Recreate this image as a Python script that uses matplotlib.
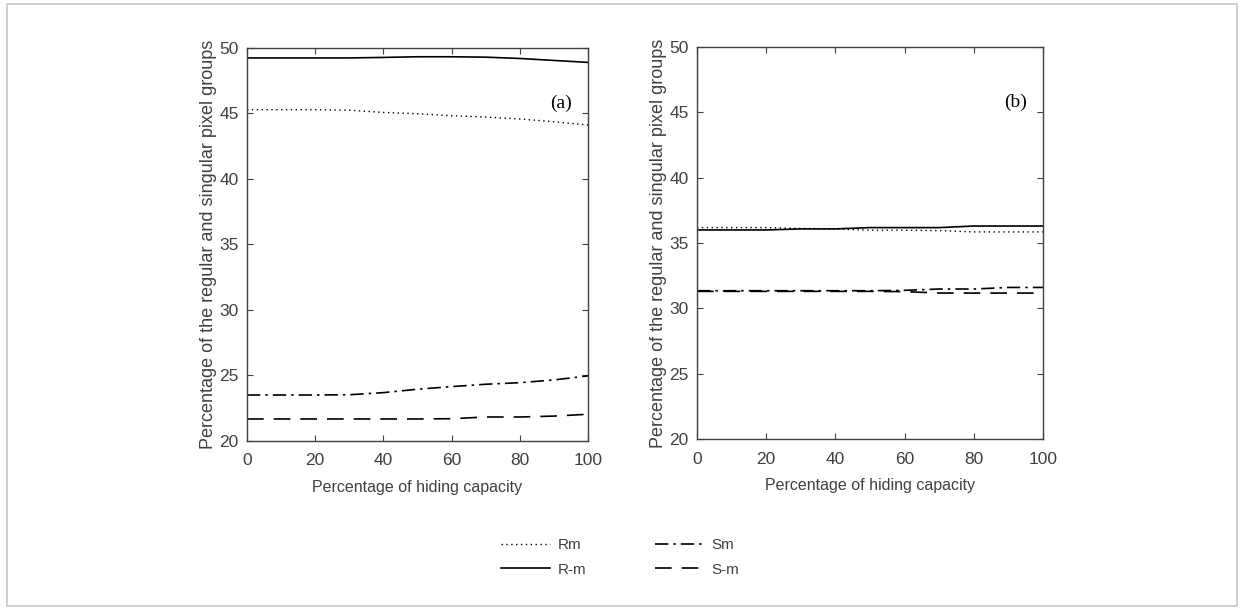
import matplotlib.pyplot as plt
from matplotlib.patches import Rectangle

# hiding capacity (%)
capacity = [0, 10, 20, 30, 40, 50, 60, 70, 80, 90, 100]

# panel (a)
a_rm = [45.29, 45.29, 45.29, 45.25, 45.08, 44.98, 44.83, 44.73, 44.58, 44.37, 44.12]
a_r_m = [49.24, 49.24, 49.24, 49.24, 49.28, 49.33, 49.33, 49.30, 49.20, 49.05, 48.90]
a_sm = [23.51, 23.51, 23.51, 23.53, 23.69, 23.95, 24.15, 24.33, 24.45, 24.66, 24.97]
a_s_m = [21.68, 21.68, 21.68, 21.68, 21.68, 21.68, 21.70, 21.83, 21.83, 21.90, 22.04]

# panel (b)
b_rm = [36.18, 36.18, 36.18, 36.12, 36.08, 35.98, 35.98, 35.95, 35.85, 35.85, 35.85]
b_r_m = [36.00, 36.00, 36.00, 36.08, 36.08, 36.18, 36.18, 36.18, 36.30, 36.30, 36.30]
b_sm = [31.35, 31.35, 31.35, 31.35, 31.35, 31.35, 31.38, 31.48, 31.48, 31.60, 31.60]
b_s_m = [31.30, 31.30, 31.30, 31.30, 31.30, 31.30, 31.28, 31.17, 31.17, 31.17, 31.17]

plt.rcParams['font.family'] = ['Liberation Sans', 'DejaVu Sans']
grey = '#404040'

fig = plt.figure(figsize=(12.4, 6.09), dpi=100)
fig.patches.append(Rectangle((7 / 1240, 3 / 609), 1230 / 1240, 602 / 609,
                             transform=fig.transFigure, fill=False,
                             edgecolor='#c8c8c8', linewidth=1.2))

ax_a = fig.add_axes([0.1992, 0.2759, 0.275, 0.6453])
ax_b = fig.add_axes([0.5621, 0.2791, 0.279, 0.6437])


def draw_panel(ax, rm, r_m, sm, s_m, tag):
    h1, = ax.plot(capacity, rm, color='black', linestyle=(0, (1, 2.5)), linewidth=1.0, label='Rm')
    h2, = ax.plot(capacity, r_m, color='black', linestyle='-', linewidth=1.2, label='R-m')
    h3, = ax.plot(capacity, sm, color='black', linestyle=(0, (8, 3, 1.5, 3)), linewidth=1.2, label='Sm')
    h4, = ax.plot(capacity, s_m, color='black', linestyle=(0, (10, 6)), linewidth=1.2, label='S-m')
    ax.set_xlim(0, 100)
    ax.set_ylim(20, 50)
    ax.set_xticks([0, 20, 40, 60, 80, 100])
    ax.set_yticks([20, 25, 30, 35, 40, 45, 50])
    ax.tick_params(direction='in', top=True, right=True, length=4, width=0.8,
                   colors=grey, labelsize=12.5)
    ax.tick_params(axis='x', pad=9)
    ax.tick_params(axis='y', pad=6)
    for sp in ax.spines.values():
        sp.set_color(grey)
        sp.set_linewidth(1.0)
    ax.set_xlabel('Percentage of hiding capacity', fontsize=11.5, color=grey, labelpad=8)
    ax.set_ylabel('Percentage of the regular and singular pixel groups', fontsize=13,
                  color=grey, labelpad=2)
    ax.text(0.92, 0.86, tag, transform=ax.transAxes, ha='center', va='center',
            fontsize=14, family='Liberation Serif', color='black')
    return [h1, h2, h3, h4]


handles = draw_panel(ax_a, a_rm, a_r_m, a_sm, a_s_m, '(a)')
draw_panel(ax_b, b_rm, b_r_m, b_sm, b_s_m, '(b)')

fig.legend(handles, [h.get_label() for h in handles], ncol=2, frameon=False,
           loc='center', bbox_to_anchor=(0.5, 0.085), fontsize=11,
           handlelength=3.2, handletextpad=0.5, columnspacing=4.5,
           labelspacing=0.7, labelcolor=grey)

fig.savefig('out.png', dpi=100)
